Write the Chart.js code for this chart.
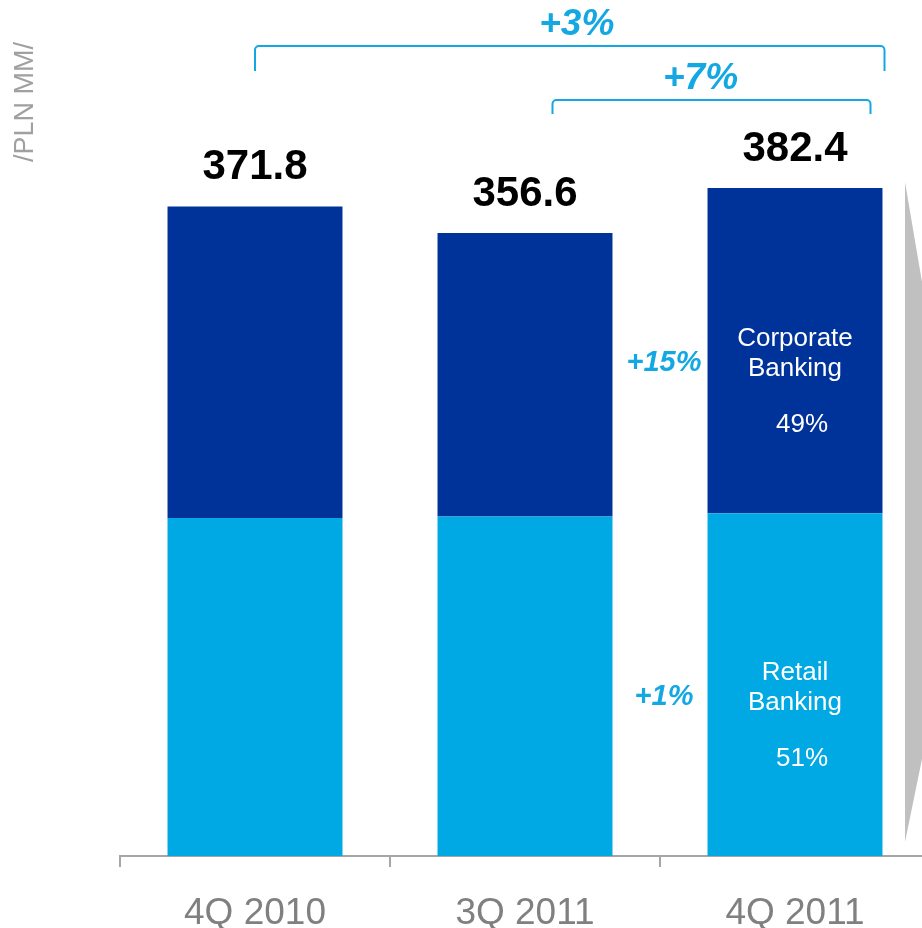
<!DOCTYPE html>
<html>
<head>
<meta charset="utf-8">
<script src="https://cdn.jsdelivr.net/npm/chart.js@4"></script>
<style>
html, body { margin: 0; padding: 0; background: #fff; overflow: hidden; }
#wrap { width: 940px; height: 928px; }
</style>
</head>
<body>
<div id="wrap"><canvas id="incomeChart" width="940" height="928"></canvas></div>
<script>
var quarters = ["4Q 2010", "3Q 2011", "4Q 2011"];
// PLN MM, split by segment
var retail = [193.5, 194.3, 196.2];
var corporate = [178.3, 162.3, 186.2];
var segmentNames = [["Retail", "Banking"], ["Corporate", "Banking"]];

var FONT = "'Liberation Sans', Arial, sans-serif";
var LIGHT = "#00A9E3";
var DARK = "#003399";
var ACCENT = "#14A8E2";

function pct(a, b) {
  var p = Math.round((a / b - 1) * 100);
  return (p >= 0 ? "+" : "") + p + "%";
}

var overlay = {
  id: "overlay",
  beforeDraw: function(chart) {
    var c = chart.ctx;
    c.save();
    // grey pointer on the right edge
    c.fillStyle = "#C0C0C0";
    c.beginPath();
    c.moveTo(905, 182);
    c.lineTo(922, 282);
    c.lineTo(940, 282);
    c.lineTo(940, 759);
    c.lineTo(922, 759);
    c.lineTo(905, 842);
    c.closePath();
    c.fill();
    // unit label
    c.translate(33, 102);
    c.rotate(-Math.PI / 2);
    c.fillStyle = "#A0A0A0";
    c.font = "27px " + FONT;
    c.textAlign = "center";
    c.textBaseline = "alphabetic";
    c.fillText("/PLN MM/", 0, 0);
    c.restore();
  },
  afterDatasetsDraw: function(chart) {
    var c = chart.ctx;
    var lo = chart.getDatasetMeta(0).data;
    var hi = chart.getDatasetMeta(1).data;
    c.save();

    // totals above bars
    c.fillStyle = "#000";
    c.font = "bold 42px " + FONT;
    c.textAlign = "center";
    c.textBaseline = "alphabetic";
    hi.forEach(function(bar, i) {
      var total = retail[i] + corporate[i];
      c.fillText(total.toFixed(1), bar.x, bar.y - 27);
    });

    // growth brackets over the totals
    var last = hi.length - 1;
    var brackets = [
      { from: 0, to: last, y: 46, drop: 25, dxFrom: 0, dxTo: 89.5, textDx: 7, textY: 35 },
      { from: 1, to: last, y: 100, drop: 14, dxFrom: 27.5, dxTo: 75.5, textDx: -11, textY: 89 }
    ];
    c.strokeStyle = ACCENT;
    c.lineWidth = 2;
    c.lineJoin = "round";
    c.fillStyle = ACCENT;
    c.font = "italic bold 37px " + FONT;
    brackets.forEach(function(b) {
      var x1 = hi[b.from].x + b.dxFrom;
      var x2 = hi[b.to].x + b.dxTo;
      c.beginPath();
      c.moveTo(x1, b.y + b.drop);
      c.arcTo(x1, b.y, x1 + 6, b.y, 4);
      c.arcTo(x2, b.y, x2, b.y + 6, 4);
      c.lineTo(x2, b.y + b.drop);
      c.stroke();
      var tot1 = retail[b.from] + corporate[b.from];
      var tot2 = retail[b.to] + corporate[b.to];
      c.fillText(pct(tot2, tot1), (x1 + x2) / 2 + b.textDx, b.textY);
    });

    // segment growth in the gap before the last bar
    var gapX = (hi[last - 1].x + hi[last - 1].width / 2 + hi[last].x - hi[last].width / 2) / 2 + 4;
    c.font = "italic bold 29px " + FONT;
    var segs = [
      { meta: lo, vals: retail },
      { meta: hi, vals: corporate }
    ];
    segs.forEach(function(s) {
      var bar = s.meta[last];
      var mid = (bar.y + bar.base) / 2;
      c.fillText(pct(s.vals[last], s.vals[last - 1]), gapX, mid + 20);
    });

    // segment names and shares inside the last bar
    var total = retail[last] + corporate[last];
    c.fillStyle = "#fff";
    c.font = "26px " + FONT;
    segs.forEach(function(s, k) {
      var bar = s.meta[last];
      var mid = (bar.y + bar.base) / 2;
      c.fillText(segmentNames[k][0], bar.x, mid - 5);
      c.fillText(segmentNames[k][1], bar.x, mid + 25);
      c.fillText(Math.round(s.vals[last] / total * 100) + "%", bar.x + 7, mid + 81);
    });
    c.restore();
  }
};

var ctx = document.getElementById("incomeChart");
var incomeChart = new Chart(ctx, {
  type: "bar",
  data: {
    labels: quarters,
    datasets: [
      {
        label: "Retail Banking",
        data: retail,
        backgroundColor: LIGHT,
        categoryPercentage: 0.648,
        barPercentage: 1
      },
      {
        label: "Corporate Banking",
        data: corporate,
        backgroundColor: DARK,
        categoryPercentage: 0.648,
        barPercentage: 1
      }
    ]
  },
  options: {
    responsive: false,
    animation: false,
    devicePixelRatio: 1,
    layout: { padding: { left: 120, right: 10, top: 0, bottom: 0 } },
    plugins: {
      legend: { display: false },
      tooltip: { enabled: false }
    },
    scales: {
      x: {
        stacked: true,
        grid: {
          drawOnChartArea: false,
          drawTicks: true,
          tickLength: 11,
          color: "#A6A6A6",
          lineWidth: 2
        },
        border: { display: true, color: "#A6A6A6", width: 2 },
        ticks: {
          color: "#808080",
          padding: 25,
          font: { family: FONT, size: 37 }
        },
        afterFit: function(scale) {
          scale.height = 72;
        }
      },
      y: {
        stacked: true,
        display: false,
        min: 0,
        max: 490
      }
    }
  },
  plugins: [overlay]
});
</script>
</body>
</html>
